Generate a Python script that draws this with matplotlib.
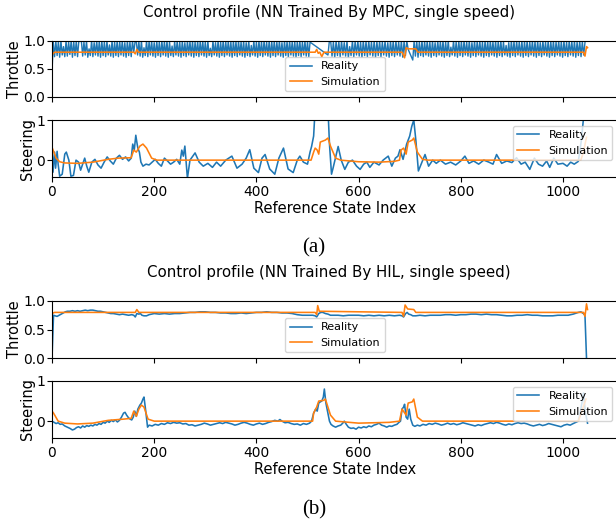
import numpy as np
import matplotlib
matplotlib.use("Agg")
import matplotlib.pyplot as plt

# ---------------- data ----------------
titles = ["Control profile (NN Trained By MPC, single speed)",
          "Control profile (NN Trained By HIL, single speed)"]
panel_tags = ["(a)", "(b)"]
series_names = ["Reality", "Simulation"]
x_label = "Reference State Index"

# (a) throttle, reality: three dense segments (start, end, values)
thr_a_real_seg1 = (0, 505, [
    0.45, 0.98, 0.72, 1.0, 0.74, 0.99, 0.71, 1.0, 0.75, 0.9, 0.72, 1.0, 0.73, 0.98, 0.76, 1.0, 0.71, 0.99, 0.74, 1.0,
    0.72, 1.0, 1.0, 1.0, 0.73, 0.98, 0.75, 1.0, 0.71, 0.86, 0.74, 1.0, 0.72, 0.97, 0.75, 1.0, 0.73, 0.99, 0.71, 1.0,
    0.74, 0.98, 0.72, 1.0, 0.75, 0.93, 0.73, 1.0, 0.71, 0.98, 0.74, 1.0, 0.72, 0.99, 0.75, 1.0, 0.73, 0.97, 0.71, 1.0,
    0.74, 0.98, 0.72, 1.0, 0.8, 0.98, 1.0, 0.75, 0.99, 0.73, 1.0, 0.71, 0.88, 0.74, 1.0, 0.72, 0.99, 0.75, 1.0, 0.73,
    0.97, 0.71, 1.0, 0.74, 0.98, 0.72, 1.0, 0.75, 0.99, 0.73, 1.0, 0.71, 0.98, 0.74, 0.91, 0.72, 0.99, 0.75, 1.0, 0.73,
    0.98, 0.71, 1.0, 0.74, 0.97, 0.72, 1.0, 0.75, 0.99, 0.73, 1.0, 0.71, 0.98, 0.74, 1.0, 0.72, 0.99, 0.75, 1.0, 0.73,
    0.98, 0.71, 1.0, 0.74, 0.87, 0.72, 1.0, 0.75, 0.97, 0.73, 1.0, 0.71, 0.98, 0.74, 1.0, 0.72, 0.99, 0.75, 1.0, 0.73,
    0.98, 0.71, 1.0, 0.74, 0.99, 0.72, 1.0, 0.75, 0.98, 0.73, 1.0, 0.71, 0.97, 0.74, 1.0, 0.72, 0.92, 0.75, 1.0, 0.73,
    0.98, 0.71, 1.0, 0.74, 0.99, 0.72, 1.0, 0.75, 0.98, 0.73, 1.0, 0.71, 0.99, 0.74, 1.0, 0.72, 0.98, 0.75, 1.0, 0.73,
    0.97, 0.71, 1.0, 0.74, 0.99, 0.72, 1.0, 0.75, 0.98, 0.73, 1.0, 0.71, 0.99, 0.74, 1.0, 0.72, 0.98, 0.75, 1.0, 0.73,
    0.99, 0.72, 0.98])
thr_a_real_seg2 = (540, 697, [
    0.75, 0.99, 1.0, 0.73, 0.98, 0.71, 1.0, 0.74, 0.99, 0.72, 1.0, 0.75, 0.97, 0.73, 1.0, 0.71, 0.9, 0.74, 1.0, 0.72,
    0.99, 0.75, 1.0, 0.73, 0.98, 0.71, 1.0, 0.74, 0.99, 0.72, 1.0, 0.75, 0.98, 0.73, 1.0, 0.71, 0.99, 0.74, 1.0, 0.72,
    0.98, 0.75, 1.0, 0.73, 0.97, 0.71, 1.0, 0.74, 0.99, 0.72, 1.0, 0.75, 0.98, 0.73, 1.0, 0.71, 0.99, 0.74, 1.0, 0.85])
thr_a_real_seg3 = (706, 1043, [
    0.66, 0.99, 0.73, 1.0, 0.71, 0.98, 0.74, 1.0, 0.72, 0.99, 0.75, 1.0, 0.73, 0.98, 0.71, 1.0, 0.74, 0.97, 0.72, 1.0,
    0.75, 0.99, 0.73, 1.0, 0.71, 0.98, 0.74, 1.0, 0.72, 0.89, 0.75, 1.0, 0.73, 0.98, 0.71, 1.0, 0.74, 0.99, 0.72, 1.0,
    0.75, 0.98, 0.73, 1.0, 0.71, 0.97, 0.74, 1.0, 0.72, 0.99, 0.75, 1.0, 0.73, 0.98, 0.71, 1.0, 0.74, 0.99, 0.72, 1.0,
    0.75, 0.98, 0.73, 1.0, 0.71, 0.99, 0.74, 1.0, 0.72, 0.98, 0.75, 0.92, 0.73, 0.97, 0.71, 1.0, 0.74, 0.99, 0.72, 1.0,
    0.75, 0.98, 0.73, 1.0, 0.71, 0.99, 0.74, 1.0, 0.72, 0.98, 0.75, 1.0, 0.73, 0.99, 0.71, 1.0, 0.74, 0.97, 0.72, 1.0,
    0.75, 0.98, 0.73, 1.0, 0.71, 0.99, 0.74, 1.0, 0.72, 0.98, 0.75, 1.0, 0.73, 0.99, 0.71, 1.0, 0.74, 0.98, 0.72, 1.0,
    0.75, 0.99, 0.73, 1.0, 0.71, 0.98, 0.74, 1.0, 0.72, 0.99, 0.75, 0.97])

# (a) throttle, simulation
thr_a_sim_x = [0, 5, 160, 163, 166, 169, 515, 518, 521, 524, 528, 532, 685, 690, 693, 697, 712, 716, 1040, 1043, 1046, 1048]
thr_a_sim_y = [0.75, 0.8, 0.8, 0.77, 0.85, 0.8, 0.8, 0.85, 0.78, 0.8, 0.72, 0.8, 0.8, 0.7, 0.88, 0.86, 0.86, 0.8, 0.8, 0.73, 0.9, 0.88]

# (a) steering, reality
str_a_real_x = [0, 2, 5, 7, 10, 12, 15, 20, 25, 28, 33, 37, 42, 47, 52, 56, 60, 64, 68, 72, 78, 84, 90, 96, 102, 108,
                114, 120, 126, 132, 138, 144, 150, 155, 158, 161, 164, 166, 168, 171, 174, 178, 184, 190, 196, 202,
                208, 214, 220, 226, 232, 238, 244, 250, 254, 257, 260, 265, 270, 280, 288, 296, 305, 314, 322, 330,
                340, 352, 362, 372, 380, 387, 395, 404, 411, 417, 426, 436, 444, 453, 462, 472, 480, 485, 492, 500,
                505, 508, 512, 515, 540, 543, 547, 550, 560, 566, 573, 580, 588, 596, 603, 610, 616, 622, 630, 640,
                648, 658, 665, 672, 677, 681, 687, 694, 700, 704, 708, 712, 717, 724, 730, 737, 745, 752, 760, 770,
                780, 790, 800, 808, 816, 825, 835, 845, 855, 863, 870, 880, 890, 900, 909, 918, 926, 935, 944, 952,
                960, 968, 974, 982, 990, 1000, 1008, 1015, 1022, 1030, 1036, 1042]
str_a_real_y = [0.3, -0.3, 0.2, -0.2, 0.22, -0.1, -0.4, -0.35, 0.15, 0.2, 0.0, -0.4, -0.38, 0.0, -0.05, -0.25, -0.1, 0.05,
                -0.15, -0.3, -0.05, 0.02, -0.12, -0.2, -0.05, 0.08, -0.02, -0.1, 0.05, 0.12, 0.02, 0.08, -0.02, 0.05,
                0.4, 0.25, 0.62, 0.45, 0.3, 0.2, -0.05, -0.15, -0.1, -0.12, -0.05, 0.02, -0.08, -0.15, 0.05, -0.02,
                -0.1, -0.05, 0.02, -0.1, 0.25, 0.1, 0.35, -0.45, 0.0, 0.18, -0.05, -0.15, -0.08, -0.18, -0.05, -0.15,
                0.0, 0.1, -0.2, -0.1, 0.05, 0.26, -0.2, -0.31, 0.05, 0.14, -0.22, -0.35, 0.05, 0.3, -0.22, -0.31,
                0.0, 0.1, -0.05, -0.1, 0.2, 0.34, 0.6, 1.3, 1.3, 0.4, -0.35, -0.2, 0.34, 0.0, -0.23, -0.05, 0.0,
                -0.15, -0.23, -0.1, -0.05, -0.18, -0.05, -0.12, 0.0, 0.1, -0.15, 0.05, 0.1, 0.26, 0.02, 0.4, 0.6,
                0.84, 1.0, 0.5, -0.27, -0.05, 0.14, -0.15, 0.0, -0.08, 0.0, -0.1, -0.05, -0.12, -0.02, 0.1, -0.08,
                -0.02, -0.1, 0.0, -0.05, -0.1, 0.14, -0.08, -0.02, -0.06, 0.06, -0.1, -0.05, -0.23, 0.05, -0.1,
                -0.15, -0.02, -0.18, 0.05, -0.1, -0.08, -0.15, -0.05, -0.1, -0.03, 0.5, 1.3]

# (a) steering, simulation
str_a_sim_x = [0, 3, 8, 15, 25, 50, 80, 110, 130, 155, 160, 165, 172, 178, 185, 195, 205, 507, 512, 515, 519, 522, 525,
               535, 540, 545, 555, 565, 600, 640, 670, 680, 683, 688, 693, 697, 705, 708, 715, 725, 735, 1035, 1040, 1046]
str_a_sim_y = [0.32, 0.22, 0.05, -0.04, -0.07, -0.08, -0.05, 0.02, 0.05, 0.06, 0.25, 0.2, 0.35, 0.4, 0.3, 0.05, 0.0,
               0.0, 0.2, 0.3, 0.25, 0.15, 0.45, 0.5, 0.55, 0.35, 0.05, 0.0, -0.04, -0.05, -0.03, 0.0, 0.25, 0.3,
               0.15, 0.45, 0.5, 0.55, 0.2, 0.02, 0.0, 0.0, 0.2, 0.57]

# (b) throttle, reality
thr_b_real_x = [0, 3, 6, 10, 14, 18, 22, 26, 30, 35, 40, 45, 50, 55, 60, 65, 70, 75, 80, 85, 90, 95, 100, 105, 110,
                115, 120, 126, 132, 138, 144, 150, 156, 160, 163, 166, 170, 173, 176, 180, 185, 190, 195, 200, 210,
                220, 230, 240, 250, 260, 270, 280, 290, 300, 310, 320, 330, 340, 350, 360, 370, 380, 390, 400, 410,
                420, 430, 440, 450, 460, 470, 480, 490, 500, 510, 515, 518, 522, 526, 530, 535, 540, 545, 550, 560,
                570, 580, 590, 600, 610, 620, 630, 640, 650, 660, 670, 680, 685, 688, 692, 695, 698, 702, 706, 712,
                720, 730, 740, 750, 760, 770, 780, 790, 800, 810, 820, 830, 840, 850, 860, 870, 880, 890, 900, 910,
                920, 930, 940, 950, 960, 970, 980, 990, 1000, 1010, 1020, 1030, 1035, 1040, 1043, 1046]
thr_b_real_y = [0.0, 0.75, 0.74, 0.73, 0.75, 0.77, 0.79, 0.81, 0.82, 0.82, 0.83, 0.82, 0.83, 0.82, 0.83, 0.84, 0.83,
                0.84, 0.84, 0.83, 0.82, 0.82, 0.81, 0.8, 0.79, 0.78, 0.78, 0.77, 0.76, 0.77, 0.76, 0.75, 0.76, 0.75,
                0.72, 0.78, 0.77, 0.78, 0.75, 0.74, 0.74, 0.76, 0.77, 0.78, 0.77, 0.78, 0.77, 0.78, 0.78, 0.79, 0.8,
                0.8, 0.81, 0.81, 0.8, 0.8, 0.79, 0.79, 0.78, 0.78, 0.79, 0.78, 0.79, 0.8, 0.8, 0.81, 0.8, 0.8, 0.79,
                0.79, 0.78, 0.76, 0.75, 0.75, 0.75, 0.74, 0.72, 0.78, 0.8, 0.8, 0.78, 0.77, 0.75, 0.75, 0.75, 0.74,
                0.75, 0.75, 0.75, 0.74, 0.75, 0.74, 0.75, 0.74, 0.75, 0.74, 0.75, 0.74, 0.72, 0.78, 0.8, 0.77, 0.76,
                0.74, 0.74, 0.75, 0.74, 0.75, 0.75, 0.75, 0.76, 0.76, 0.75, 0.76, 0.76, 0.77, 0.77, 0.76, 0.77, 0.76,
                0.76, 0.75, 0.74, 0.74, 0.75, 0.75, 0.76, 0.75, 0.75, 0.74, 0.74, 0.74, 0.75, 0.75, 0.75, 0.77, 0.8,
                0.81, 0.78, 0.75, 0.0]

# (b) throttle, simulation
thr_b_sim_x = [0, 5, 163, 166, 170, 515, 518, 520, 523, 685, 688, 691, 696, 708, 712, 1040, 1043, 1046, 1048]
thr_b_sim_y = [0.78, 0.8, 0.8, 0.85, 0.8, 0.8, 0.76, 0.92, 0.82, 0.8, 0.73, 0.93, 0.86, 0.85, 0.8, 0.8, 0.73, 0.95, 0.85]

# (b) steering, reality
str_b_real_x = [0, 4, 8, 12, 16, 20, 25, 30, 35, 40, 44, 48, 52, 56, 60, 64, 68, 72, 76, 80, 84, 88, 92, 96, 100, 104,
                108, 112, 116, 120, 124, 128, 132, 136, 140, 143, 146, 150, 153, 156, 159, 162, 165, 168, 172, 175,
                178, 180, 183, 187, 190, 196, 202, 208, 214, 220, 226, 232, 238, 244, 250, 256, 262, 268, 274, 280,
                286, 292, 298, 304, 310, 316, 322, 328, 334, 340, 346, 352, 358, 364, 370, 376, 382, 388, 394, 400,
                406, 412, 418, 424, 430, 436, 442, 446, 450, 456, 462, 468, 474, 480, 486, 492, 498, 504, 508, 512,
                516, 519, 522, 525, 528, 531, 533, 536, 540, 543, 546, 550, 555, 560, 565, 569, 572, 576, 580, 585,
                590, 595, 600, 605, 610, 615, 620, 625, 630, 635, 640, 645, 650, 655, 660, 665, 670, 675, 679, 682,
                685, 688, 690, 693, 696, 699, 702, 706, 710, 715, 720, 726, 732, 738, 744, 750, 756, 762, 768, 774,
                780, 786, 792, 798, 804, 810, 816, 822, 828, 834, 840, 846, 852, 858, 864, 870, 876, 882, 888, 894,
                900, 906, 912, 918, 924, 930, 936, 942, 948, 954, 960, 966, 972, 978, 984, 990, 996, 1002, 1008, 1014,
                1020, 1025, 1030, 1035, 1040, 1044, 1048]
str_b_real_y = [0.0, -0.03, -0.06, -0.04, -0.08, -0.07, -0.12, -0.15, -0.18, -0.22, -0.2, -0.16, -0.14, -0.17, -0.12,
                -0.15, -0.11, -0.13, -0.1, -0.12, -0.08, -0.1, -0.06, -0.08, -0.03, -0.05, 0.0, -0.03, 0.02, -0.01,
                0.03, -0.02, 0.02, 0.1, 0.2, 0.22, 0.15, 0.08, 0.05, 0.03, 0.1, 0.25, 0.12, 0.3, 0.4, 0.45, 0.55,
                0.6, 0.3, -0.15, -0.1, -0.12, -0.08, -0.1, -0.06, -0.08, -0.04, -0.06, -0.03, -0.05, -0.04, -0.07,
                -0.06, -0.1, -0.09, -0.12, -0.1, -0.08, -0.05, -0.07, -0.1, -0.08, -0.06, -0.04, -0.06, -0.03,
                -0.05, -0.07, -0.1, -0.08, -0.05, -0.03, -0.05, -0.08, -0.1, -0.07, -0.05, -0.08, -0.06, -0.03,
                -0.01, 0.02, 0.0, 0.04, 0.0, -0.04, -0.03, -0.06, -0.08, -0.07, -0.1, -0.06, -0.08, -0.05, 0.0, 0.2,
                0.3, 0.25, 0.45, 0.48, 0.5, 0.6, 0.8, 0.45, 0.2, 0.0, -0.08, -0.12, -0.15, -0.12, -0.1, -0.05, 0.0,
                -0.08, -0.15, -0.18, -0.17, -0.2, -0.15, -0.17, -0.14, -0.16, -0.12, -0.14, -0.1, -0.08, -0.05,
                -0.1, -0.12, -0.15, -0.12, -0.13, -0.1, -0.08, -0.03, 0.0, 0.3, 0.35, 0.42, 0.1, 0.05, 0.3, 0.05,
                -0.1, -0.13, -0.1, -0.12, -0.08, -0.1, -0.06, -0.08, -0.05, -0.07, -0.1, -0.08, -0.05, -0.08, -0.06,
                -0.09, -0.07, -0.04, -0.06, -0.08, -0.1, -0.12, -0.09, -0.11, -0.08, -0.06, -0.04, -0.06, -0.03,
                -0.05, -0.08, -0.1, -0.07, -0.09, -0.06, -0.04, -0.06, -0.05, -0.07, -0.1, -0.12, -0.1, -0.08,
                -0.11, -0.09, -0.06, -0.08, -0.1, -0.12, -0.14, -0.1, -0.08, -0.1, -0.06, -0.03, 0.0, 0.3, 0.7,
                0.2, -0.05]

# (b) steering, simulation
str_b_sim_x = [0, 3, 12, 25, 50, 80, 110, 140, 155, 160, 165, 170, 175, 180, 188, 200, 510, 512, 518, 522, 532, 535,
               545, 555, 600, 660, 680, 685, 693, 697, 705, 708, 715, 725, 1030, 1045]
str_b_sim_y = [0.25, 0.2, 0.0, -0.05, -0.07, -0.05, 0.02, 0.05, 0.07, 0.25, 0.12, 0.3, 0.4, 0.35, 0.05, 0.0, 0.0,
               0.2, 0.35, 0.5, 0.52, 0.55, 0.15, 0.0, -0.05, -0.03, 0.0, 0.3, 0.15, 0.45, 0.48, 0.55, 0.1, 0.0, 0.0, 0.55]

x_ticks = [0, 200, 400, 600, 800, 1000]
thr_ticks = [0.0, 0.5, 1.0]
str_ticks = [0, 1]

# ---------------- figure ----------------
W, H = 616, 525
fig = plt.figure(figsize=(W / 100, H / 100), dpi=100)

BLUE = "#1f77b4"
ORANGE = "#ff7f0e"
LW = 1.15
FS_TICK = 10
FS_LAB = 10.5
FS_TITLE = 10.8
LEFT = 52 / W
RIGHT = 618 / W
XMAX = (618 - 52) / 0.511


def seg_xy(*segs):
    xs, ys = [], []
    for s, e, vals in segs:
        xs.append(np.linspace(s, e, len(vals)))
        ys.append(np.asarray(vals))
    return np.concatenate(xs), np.concatenate(ys)


def make_ax(top_px, bot_px):
    return fig.add_axes([LEFT, 1 - bot_px / H, RIGHT - LEFT, (bot_px - top_px) / H])


def style(ax, kind, show_x):
    ax.set_xlim(0, XMAX)
    ax.set_xticks(x_ticks)
    ax.tick_params(labelsize=FS_TICK)
    ax.tick_params(axis="y", pad=1.5)
    ax.tick_params(axis="x", pad=2.5)
    if kind == "thr":
        ax.set_ylim(0, 1.0)
        ax.set_yticks(thr_ticks)
        ax.set_ylabel("Throttle", fontsize=FS_LAB, labelpad=1)
    else:
        ax.set_ylim(-0.42, 1.0)
        ax.set_yticks(str_ticks)
        ax.set_yticklabels([str(t) for t in str_ticks])
        ax.set_ylabel("Steering", fontsize=FS_LAB, labelpad=1)
    if show_x:
        ax.set_xlabel(x_label, fontsize=FS_LAB, labelpad=1)
    else:
        ax.tick_params(labelbottom=False)


panels = [
    dict(thr_real=seg_xy(thr_a_real_seg1, thr_a_real_seg2, thr_a_real_seg3), thr_lw=1.0,
         thr_sim=(thr_a_sim_x, thr_a_sim_y),
         str_real=(str_a_real_x, str_a_real_y),
         str_sim=(str_a_sim_x, str_a_sim_y),
         px=(41, 97, 120, 177), title_y=12, tag_y=248),
    dict(thr_real=(thr_b_real_x, thr_b_real_y), thr_lw=LW,
         thr_sim=(thr_b_sim_x, thr_b_sim_y),
         str_real=(str_b_real_x, str_b_real_y),
         str_sim=(str_b_sim_x, str_b_sim_y),
         px=(301, 358, 381, 438), title_y=272, tag_y=510),
]

for i, p in enumerate(panels):
    t1, b1, t2, b2 = p["px"]
    ax1 = make_ax(t1, b1)
    ax1.plot(*p["thr_real"], color=BLUE, lw=p["thr_lw"], label=series_names[0])
    ax1.plot(*p["thr_sim"], color=ORANGE, lw=LW, label=series_names[1])
    style(ax1, "thr", False)
    leg = ax1.legend(loc="lower center", fontsize=8)
    for h in leg.get_lines():
        h.set_linewidth(LW)

    ax2 = make_ax(t2, b2)
    ax2.plot(*p["str_real"], color=BLUE, lw=LW, label=series_names[0])
    ax2.plot(*p["str_sim"], color=ORANGE, lw=LW, label=series_names[1])
    style(ax2, "str", True)
    ax2.legend(loc="upper right", fontsize=8)

    fig.text(329 / W, 1 - p["title_y"] / H, titles[i], ha="center", va="center", fontsize=FS_TITLE)
    fig.text(314 / W, 1 - p["tag_y"] / H, panel_tags[i], ha="center", va="center",
             fontsize=15, family="Liberation Serif")

fig.savefig("out.png", dpi=100)
